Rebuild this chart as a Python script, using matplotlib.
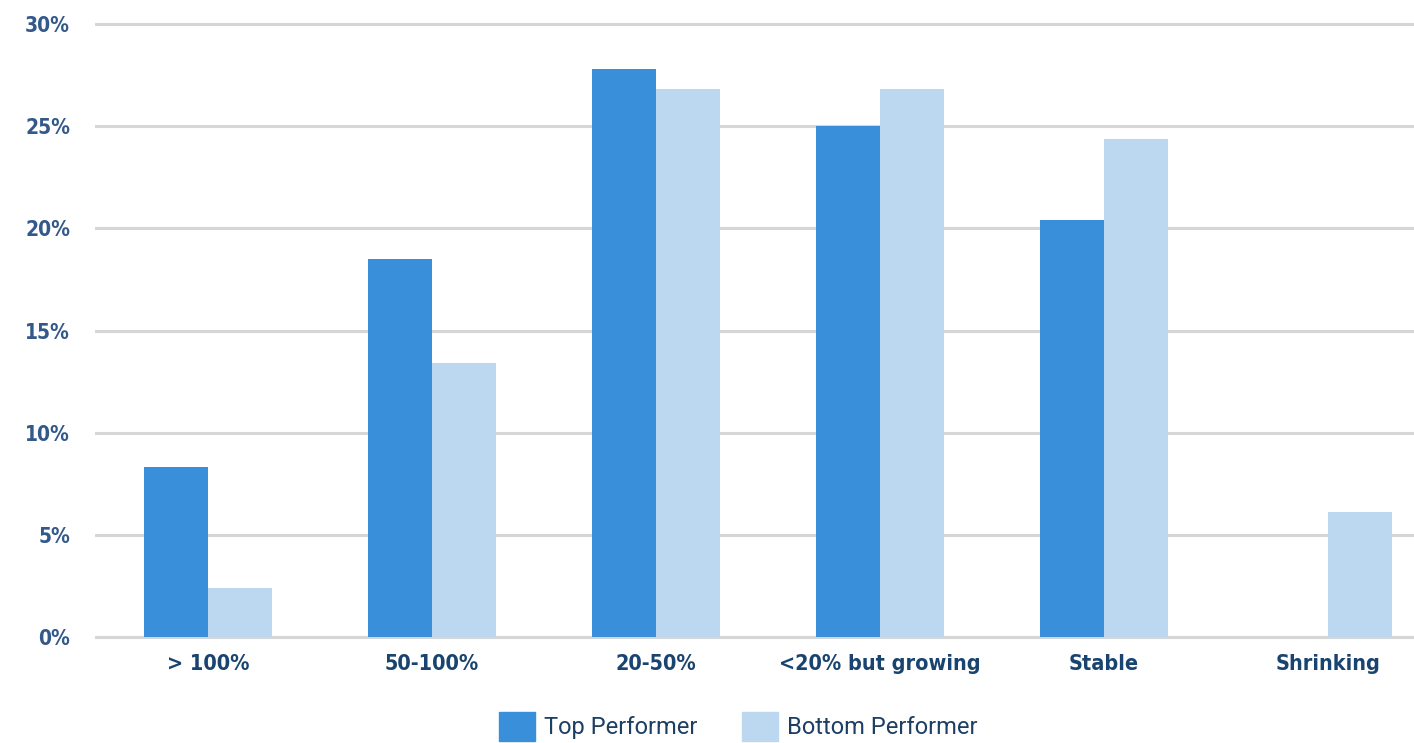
import numpy as np
import matplotlib
matplotlib.use("agg")
import matplotlib.pyplot as plt
from matplotlib.patches import Patch

categories = ["> 100%", "50-100%", "20-50%", "<20% but growing", "Stable", "Shrinking"]
top_performer = [8.3, 18.5, 27.8, 25.0, 20.4, 0.0]
bottom_performer = [2.4, 13.4, 26.8, 26.8, 24.4, 6.1]
y_ticks = [0, 5, 10, 15, 20, 25, 30]
series_names = ["Top Performer", "Bottom Performer"]

TOP_COLOR = "#3a8fdb"
BOTTOM_COLOR = "#bcd8f1"
GRID_COLOR = "#d6d6d6"
TICK_COLOR = "#33598a"
LABEL_COLOR = "#1a4470"

fig = plt.figure(figsize=(14.14, 7.43), dpi=100)
ax = fig.add_axes([0.0672, 0.1345, 0.9328, 0.8413])

x = np.arange(len(categories))
width = 0.286
ax.bar(x - width / 2, top_performer, width, color=TOP_COLOR, zorder=3)
ax.bar(x + width / 2, bottom_performer, width, color=BOTTOM_COLOR, zorder=3)

ax.set_xlim(-0.504, 5.384)
ax.set_ylim(-0.3, 30.3)
ax.set_yticks(y_ticks)
ax.set_yticklabels([f"{v}%" for v in y_ticks])
ax.yaxis.grid(True, color=GRID_COLOR, linewidth=2.2, zorder=0)
ax.set_axisbelow(True)

ax.set_xticks(x)
ax.set_xticklabels(categories)
ax.tick_params(axis="both", length=0)
ax.tick_params(axis="y", pad=18, labelcolor=TICK_COLOR)
ax.tick_params(axis="x", pad=8, labelcolor=LABEL_COLOR)
for lbl in ax.get_yticklabels():
    lbl.set_fontfamily("DejaVu Sans")
    lbl.set_fontstretch("condensed")
    lbl.set_fontweight("bold")
    lbl.set_fontsize(15)
for lbl in ax.get_xticklabels():
    lbl.set_fontfamily("DejaVu Sans")
    lbl.set_fontstretch("condensed")
    lbl.set_fontweight("bold")
    lbl.set_fontsize(15.5)

for side in ["top", "right", "left", "bottom"]:
    ax.spines[side].set_visible(False)

handles = [Patch(color=TOP_COLOR), Patch(color=BOTTOM_COLOR)]
fig.legend(handles, series_names, loc="center", bbox_to_anchor=(0.522, 0.022),
           ncol=2, frameon=False, handlelength=1.52, handleheight=1.52,
           handletextpad=0.38, columnspacing=1.9, borderpad=0,
           prop={"family": "Roboto", "size": 17}, labelcolor="#1d3f63")

fig.savefig("out.png", dpi=100)
